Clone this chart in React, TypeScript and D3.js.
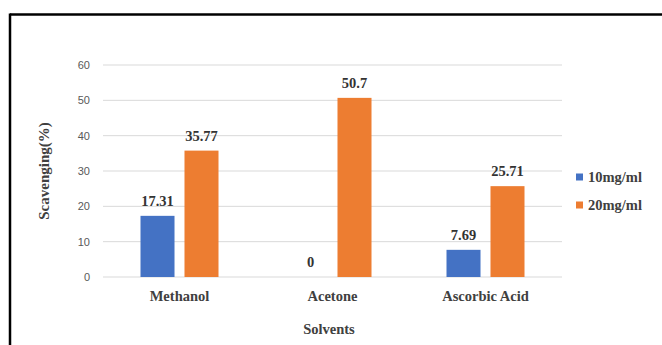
import React from "react";
import * as d3 from "d3";

const categories = ["Methanol", "Acetone", "Ascorbic Acid"];
const seriesNames = ["10mg/ml", "20mg/ml"];
const values10 = [17.31, 0, 7.69];
const values20 = [35.77, 50.7, 25.71];
const yTicks = [0, 10, 20, 30, 40, 50, 60];
const colors = ["#4472C4", "#ED7D31"];

const W = 662;
const H = 345;
const plot = { left: 103, right: 562, top: 65, bottom: 277 };

export default function App() {
  const x0 = d3.scaleBand<string>().domain(categories).range([plot.left, plot.right]);
  const bw = x0.bandwidth();
  const x1 = d3
    .scaleBand<string>()
    .domain(seriesNames)
    .range([bw / 2 - 39, bw / 2 + 39])
    .paddingInner(0.227);
  const y = d3.scaleLinear().domain([0, 60]).range([plot.bottom, plot.top]);
  const seriesValues = [values10, values20];
  const serif = "'Liberation Serif', 'Times New Roman', serif";
  const sans = "'Liberation Sans', Arial, sans-serif";

  return (
    <svg
      width={W}
      height={H}
      style={{ position: "absolute", left: 0, top: 0, background: "#fff" }}
    >
      {/* frame */}
      <line x1={10} y1={14.5} x2={W} y2={14.5} stroke="#000" strokeWidth={2.5} />
      <line x1={10} y1={13.5} x2={10} y2={H} stroke="#000" strokeWidth={2.5} />

      {/* gridlines */}
      {yTicks.map((t) => (
        <line
          key={t}
          x1={plot.left}
          x2={plot.right}
          y1={y(t)}
          y2={y(t)}
          stroke="#d9d9d9"
          strokeWidth={1}
        />
      ))}
      {/* y tick labels */}
      {yTicks.map((t) => (
        <text
          key={"l" + t}
          x={90}
          y={y(t)}
          dy="0.35em"
          textAnchor="end"
          fontFamily={sans}
          fontSize={11}
          fill="#595959"
        >
          {t}
        </text>
      ))}

      {/* bars */}
      {categories.map((c, i) => (
        <g key={c} transform={`translate(${x0(c)},0)`}>
          {seriesNames.map((s, j) => {
            const v = seriesValues[j][i];
            const bx = x1(s)!;
            return (
              <g key={s}>
                <rect
                  x={bx}
                  y={y(v)}
                  width={x1.bandwidth()}
                  height={y(0) - y(v)}
                  fill={colors[j]}
                />
                <text
                  x={bx + x1.bandwidth() / 2}
                  y={y(v) - 10}
                  textAnchor="middle"
                  fontFamily={serif}
                  fontWeight="bold"
                  fontSize={14.5}
                  fill="#333"
                >
                  {v}
                </text>
              </g>
            );
          })}
          <text
            x={bw / 2}
            y={301}
            textAnchor="middle"
            fontFamily={serif}
            fontWeight="bold"
            fontSize={14.5}
            fill="#404040"
          >
            {c}
          </text>
        </g>
      ))}

      {/* axis titles */}
      <text
        x={329}
        y={334}
        textAnchor="middle"
        fontFamily={serif}
        fontWeight="bold"
        fontSize={14.5}
        fill="#404040"
      >
        Solvents
      </text>
      <text
        transform={`translate(49,${(plot.top + plot.bottom) / 2}) rotate(-90)`}
        textAnchor="middle"
        fontFamily={serif}
        fontWeight="bold"
        fontSize={15}
        fill="#404040"
      >
        Scavenging(%)
      </text>

      {/* legend */}
      {seriesNames.map((s, j) => (
        <g key={s} transform={`translate(576,${177 + j * 28})`}>
          <rect x={0} y={-3.5} width={7} height={7} fill={colors[j]} />
          <text
            x={12}
            y={0}
            dy="0.35em"
            fontFamily={serif}
            fontWeight="bold"
            fontSize={14.5}
            fill="#404040"
          >
            {s}
          </text>
        </g>
      ))}
    </svg>
  );
}
